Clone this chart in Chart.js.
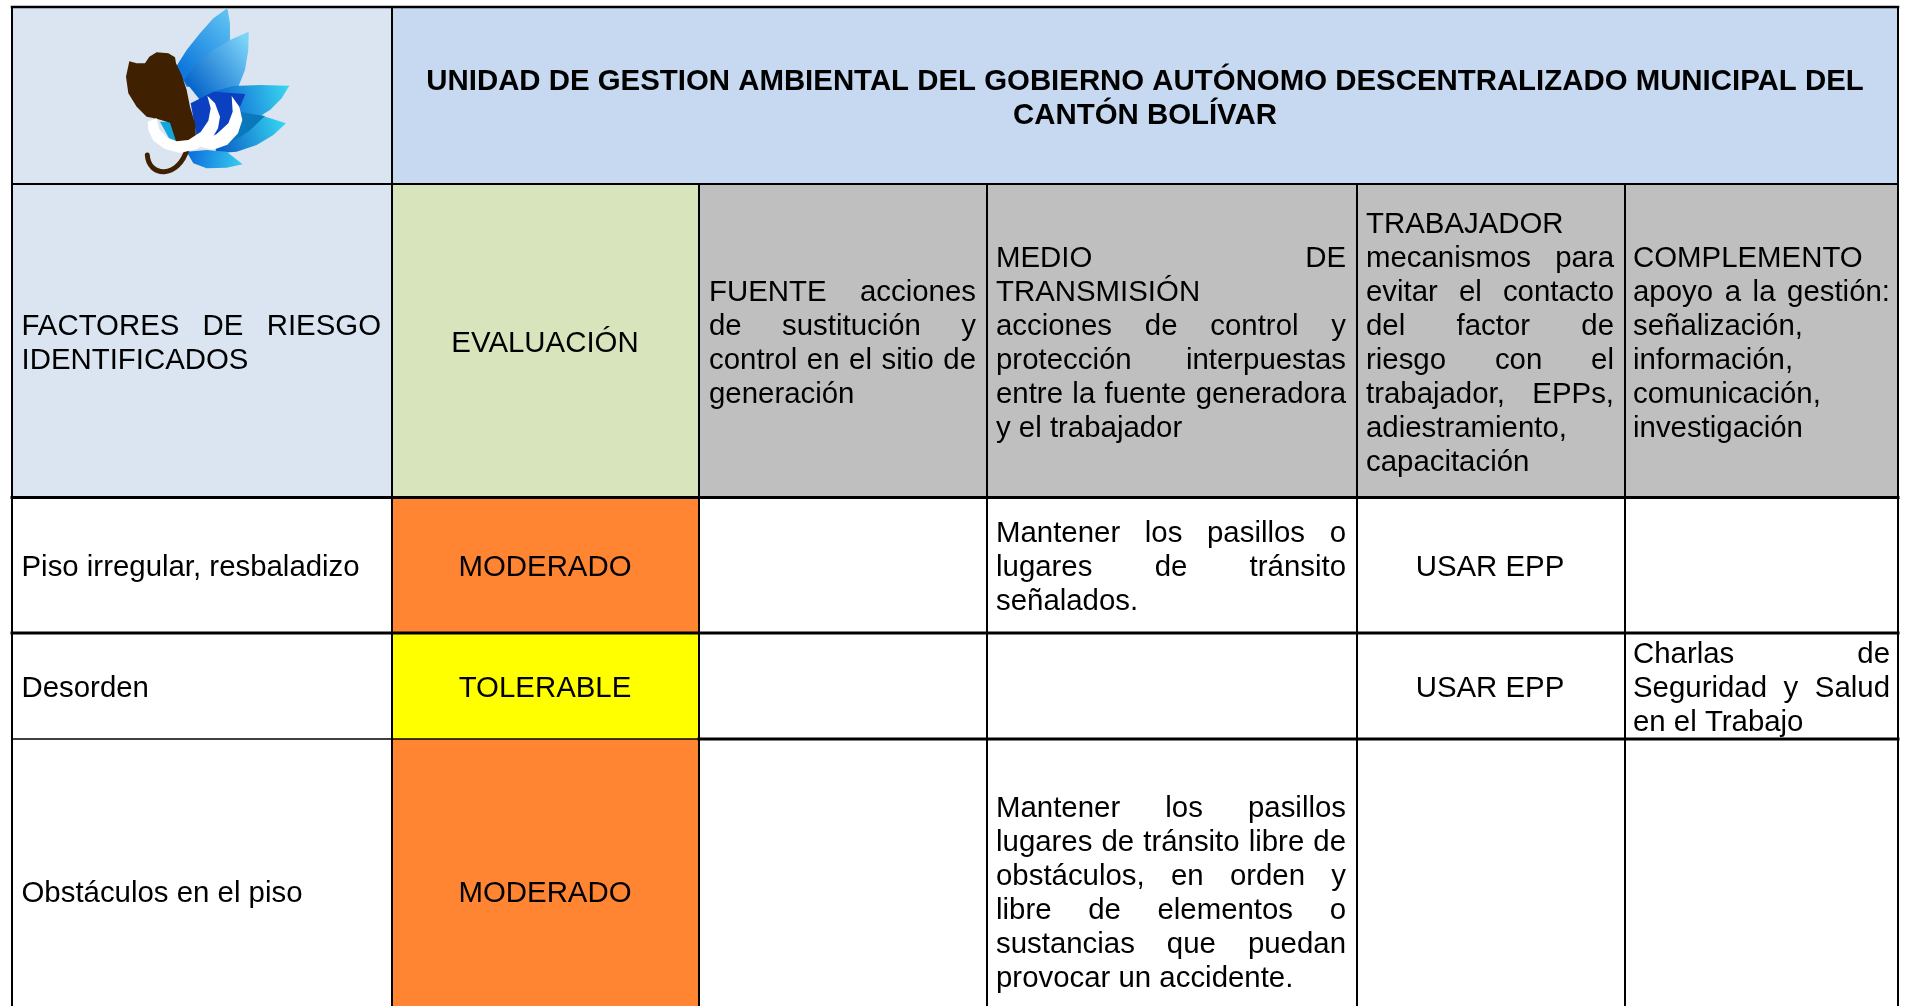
<!DOCTYPE html>
<html>
<head>
<meta charset="utf-8">
<title>Factores de riesgo</title>
<script src="https://cdn.jsdelivr.net/npm/chart.js@4"></script>
<style>
  html, body { margin: 0; padding: 0; background: #fff; overflow: hidden; }
  canvas { display: block; }
</style>
</head>
<body>
<canvas id="chart" width="1905" height="1006"></canvas>
<script>
// table structure, in axis units
const colEdges = [12, 392, 699, 987, 1357, 1625, 1898];
const rowEdges = [7, 184, 497, 633, 739, 1042];

const titleLines = [
    'UNIDAD DE GESTION AMBIENTAL DEL GOBIERNO AUTÓNOMO DESCENTRALIZADO MUNICIPAL DEL',
    'CANTÓN BOLÍVAR'
];

const headers = [
    ['FACTORES DE RIESGO', 'IDENTIFICADOS'],
    ['EVALUACIÓN'],
    ['FUENTE acciones', 'de sustitución y', 'control en el sitio de', 'generación'],
    ['MEDIO DE', 'TRANSMISIÓN', 'acciones de control y', 'protección interpuestas', 'entre la fuente generadora', 'y el trabajador'],
    ['TRABAJADOR', 'mecanismos para', 'evitar el contacto', 'del factor de', 'riesgo con el', 'trabajador, EPPs,', 'adiestramiento,', 'capacitación'],
    ['COMPLEMENTO', 'apoyo a la gestión:', 'señalización,', 'información,', 'comunicación,', 'investigación']
];

const factores = ['Piso irregular, resbaladizo', 'Desorden', 'Obstáculos en el piso'];
const evaluacion = ['MODERADO', 'TOLERABLE', 'MODERADO'];
const fuente = [[], [], []];
const medio = [
    ['Mantener los pasillos o', 'lugares de tránsito', 'señalados.'],
    [],
    ['Mantener los pasillos', 'lugares de tránsito libre de', 'obstáculos, en orden y', 'libre de elementos o', 'sustancias que puedan', 'provocar un accidente.']
];
const trabajador = [['USAR EPP'], ['USAR EPP'], []];
const complemento = [[], ['Charlas de', 'Seguridad y Salud', 'en el Trabajo'], []];

const COLORS = {
    title: '#C6D9F1',
    factor: '#DBE5F1',
    evalHead: '#D8E4BC',
    gray: '#BFBFBF',
    white: '#FFFFFF',
    MODERADO: '#FF8533',
    TOLERABLE: '#FFFF00'
};
const headerFills = [COLORS.factor, COLORS.evalHead, COLORS.gray, COLORS.gray, COLORS.gray, COLORS.gray];
const FONT_SIZE = 29.4;
const LINE_HEIGHT = 34;
const TEXT_SHIFT = 3;
const FONT_FAMILY = '"Liberation Sans", Arial, sans-serif';
const CENTERED_COLS = [1];
const PAD_LEFT = [9.5, 10, 10, 9, 9, 8];
const PAD_RIGHT = [11, 11, 11, 11, 11, 8];

// --- cells as closed shapes on the linear scales ---
function cellShape(x0, x1, y0, y1, color) {
    return {
        type: 'scatter',
        showLine: true,
        order: 2,
        data: [{x: x0, y: y0}, {x: x1, y: y0}, {x: x1, y: y1}, {x: x0, y: y1}, {x: x0, y: y0}],
        borderWidth: 0,
        borderColor: color,
        backgroundColor: color,
        fill: 'shape',
        pointRadius: 0,
        tension: 0
    };
}

function gridLine(x0, y0, x1, y1, width) {
    return {
        type: 'scatter',
        showLine: true,
        order: 1,
        data: [{x: x0, y: y0}, {x: x1, y: y1}],
        borderColor: '#000000',
        borderWidth: width,
        borderCapStyle: 'square',
        fill: false,
        pointRadius: 0
    };
}

function buildDatasets() {
    const sets = [];
    const c = colEdges, r = rowEdges;
    // logo cell and title
    sets.push(cellShape(c[0], c[1], r[0], r[1], COLORS.factor));
    sets.push(cellShape(c[1], c[6], r[0], r[1], COLORS.title));
    headerFills.forEach((fillColor, i) => {
        sets.push(cellShape(c[i], c[i + 1], r[1], r[2], fillColor));
    });
    evaluacion.forEach((level, i) => {
        sets.push(cellShape(c[1], c[2], r[i + 2], r[i + 3], COLORS[level]));
    });

    // horizontal rules
    sets.push(gridLine(c[0], r[0], c[6], r[0], 2.5));
    sets.push(gridLine(c[0], r[1], c[6], r[1], 2));
    sets.push(gridLine(c[0], r[2] + 0.5, c[6], r[2] + 0.5, 3));
    sets.push(gridLine(c[0], r[3], c[6], r[3], 3));
    sets.push(gridLine(c[0], r[4], c[2], r[4], 1.5));
    sets.push(gridLine(c[2], r[4], c[6], r[4], 3));
    // vertical rules
    sets.push(gridLine(c[0], r[0], c[0], r[5], 2));
    sets.push(gridLine(c[1], r[0], c[1], r[5], 2));
    sets.push(gridLine(c[6], r[0], c[6], r[5], 2));
    [2, 3, 4, 5].forEach(i => sets.push(gridLine(c[i], r[1], c[i], r[5], 2)));
    return sets;
}

// --- text inside the cells ---
function drawBlock(ctx, lines, left, right, centerY, centered) {
    const total = lines.length;
    lines.forEach((line, i) => {
        const y = centerY + TEXT_SHIFT + (i - (total - 1) / 2) * LINE_HEIGHT;
        const words = line.split(' ');
        if (centered) {
            ctx.textAlign = 'center';
            ctx.fillText(line, (left + right) / 2, y);
            return;
        }
        ctx.textAlign = 'left';
        if (i === total - 1 || words.length < 2) {
            ctx.fillText(line, left, y);
            return;
        }
        // justified line
        const used = words.reduce((sum, w) => sum + ctx.measureText(w).width, 0);
        const gap = (right - left - used) / (words.length - 1);
        let x = left;
        words.forEach(w => {
            ctx.fillText(w, x, y);
            x += ctx.measureText(w).width + gap;
        });
    });
}

// --- logo in the first cell ---
function tracePoly(ctx, pts) {
    ctx.beginPath();
    pts.forEach((p, i) => (i ? ctx.lineTo(p[0], p[1]) : ctx.moveTo(p[0], p[1])));
    ctx.closePath();
}

function petal(ctx, pts, from, to, c0, c1) {
    const g = ctx.createLinearGradient(from[0], from[1], to[0], to[1]);
    g.addColorStop(0, c0);
    g.addColorStop(1, c1);
    ctx.fillStyle = g;
    tracePoly(ctx, pts);
    ctx.fill();
}

function drawLogo(ctx, ox, oy) {
    ctx.save();
    ctx.translate(ox, oy);
    ctx.scale(1 / 3, 1 / 3);
    ctx.lineJoin = 'round';

    petal(ctx, [[528, 200], [560, 150], [600, 100], [640, 55], [682, 25], [690, 70], [690, 120], [680, 170], [660, 215], [630, 260], [560, 260]],
        [540, 200], [690, 60], '#0E78DC', '#5CC0F2');
    petal(ctx, [[552, 240], [590, 190], [640, 150], [690, 120], [746, 95], [745, 150], [735, 210], [715, 260], [690, 300], [600, 300]],
        [570, 250], [740, 120], '#0A68CC', '#7CD4F8');
    petal(ctx, [[640, 275], [700, 258], [780, 255], [868, 257], [845, 295], [810, 330], [770, 355], [700, 370], [640, 340]],
        [650, 320], [860, 260], '#0A60D0', '#3AD4F0');
    petal(ctx, [[700, 335], [780, 345], [858, 370], [820, 405], [770, 435], [710, 455], [650, 460], [640, 420]],
        [650, 440], [850, 370], '#0A5CC4', '#35D4F0');
    petal(ctx, [[560, 455], [620, 450], [680, 455], [728, 493], [680, 503], [620, 505], [580, 490]],
        [570, 470], [725, 490], '#0C70DC', '#38CCF0');

    // dark centre behind the tusks
    ctx.fillStyle = '#0B40C0';
    tracePoly(ctx, [[572, 310], [640, 275], [736, 282], [716, 330], [690, 370], [640, 420], [590, 410]]);
    ctx.fill();
    ctx.fillStyle = '#0B78BC';
    tracePoly(ctx, [[716, 335], [795, 348], [745, 395], [690, 430], [670, 420]]);
    ctx.fill();

    // small teal shape under the head
    ctx.fillStyle = '#12A6DC';
    tracePoly(ctx, [[480, 365], [510, 365], [558, 410], [555, 435], [510, 420]]);
    ctx.fill();

    // back tusk
    ctx.fillStyle = '#FFFFFF';
    tracePoly(ctx, [[695, 288], [718, 320], [727, 360], [714, 400], [682, 434], [640, 449], [605, 442], [590, 420], [620, 418], [650, 402], [685, 370], [698, 335]]);
    ctx.fill();

    // body
    ctx.fillStyle = '#3F2000';
    tracePoly(ctx, [[388, 184], [410, 190], [435, 190], [448, 170], [470, 157], [505, 160], [525, 172], [528, 190], [545, 225], [560, 270], [570, 320], [585, 370], [588, 410], [570, 445], [530, 430], [510, 368], [470, 356], [440, 350], [410, 320], [385, 280], [378, 230]]);
    ctx.fill();

    // trunk
    ctx.strokeStyle = '#3F2000';
    ctx.lineWidth = 15;
    ctx.lineCap = 'round';
    ctx.beginPath();
    ctx.moveTo(442, 465);
    ctx.bezierCurveTo(445, 530, 535, 540, 562, 445);
    ctx.stroke();

    // front tusk
    ctx.fillStyle = '#FFFFFF';
    tracePoly(ctx, [[622, 287], [645, 310], [660, 350], [654, 385], [632, 422], [590, 447], [540, 459], [495, 447], [460, 422], [445, 390], [443, 365], [470, 355], [478, 388], [500, 412], [530, 424], [565, 420], [602, 396], [625, 362], [632, 325]]);
    ctx.fill();
    ctx.restore();
}

const tablePlugin = {
    id: 'tableText',
    afterDatasetsDraw(chart) {
        const ctx = chart.ctx;
        const xs = chart.scales.x, ys = chart.scales.y;
        const px = v => xs.getPixelForValue(v);
        const py = v => ys.getPixelForValue(v);
        const midY = i => (py(rowEdges[i]) + py(rowEdges[i + 1])) / 2;

        drawLogo(ctx, px(0), py(0));

        ctx.save();
        ctx.fillStyle = '#000000';
        ctx.textBaseline = 'middle';

        ctx.font = 'bold ' + FONT_SIZE + 'px ' + FONT_FAMILY;
        drawBlock(ctx, titleLines, px(colEdges[1]), px(colEdges[6]), midY(0), true);

        ctx.font = FONT_SIZE + 'px ' + FONT_FAMILY;
        const cellX = col => [px(colEdges[col]) + PAD_LEFT[col], px(colEdges[col + 1]) - PAD_RIGHT[col]];

        headers.forEach((lines, col) => {
            const [l, r] = cellX(col);
            drawBlock(ctx, lines, l, r, midY(1), CENTERED_COLS.includes(col));
        });

        const bodyCols = [factores.map(t => [t]), evaluacion.map(t => [t]), fuente, medio, trabajador, complemento];
        bodyCols.forEach((column, col) => {
            const [l, r] = cellX(col);
            column.forEach((lines, row) => {
                const centered = lines.length === 1 && col !== 0;
                drawBlock(ctx, lines, l, r, midY(row + 2), centered);
            });
        });
        ctx.restore();
    }
};

const chart = new Chart(document.getElementById('chart').getContext('2d'), {
    type: 'scatter',
    data: { datasets: buildDatasets() },
    options: {
        responsive: false,
        animation: false,
        events: [],
        layout: { padding: 0 },
        scales: {
            x: { type: 'linear', display: false, min: 0, max: 1905 },
            y: { type: 'linear', display: false, min: 0, max: 1006, reverse: true }
        },
        plugins: {
            legend: { display: false },
            tooltip: { enabled: false },
            title: { display: false }
        }
    },
    plugins: [tablePlugin]
});
</script>
</body>
</html>
